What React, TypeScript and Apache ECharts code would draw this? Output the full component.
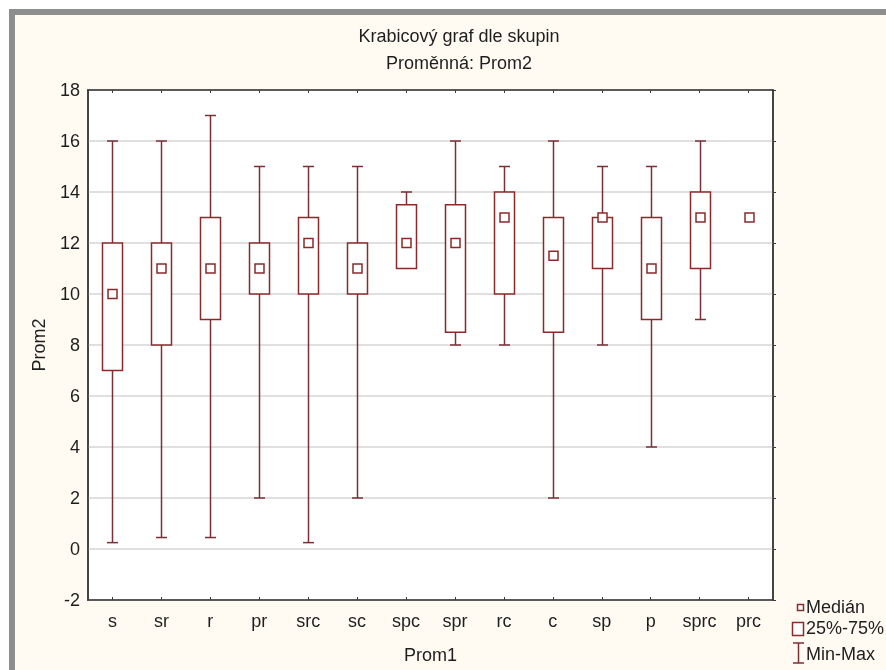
import React, { useEffect, useRef } from "react";
import * as echarts from "echarts";

const categories = ["s", "sr", "r", "pr", "src", "sc", "spc", "spr", "rc", "c", "sp", "p", "sprc", "prc"];
const minValues = [0.25, 0.45, 0.45, 2, 0.25, 2, 11, 8, 8, 2, 8, 4, 9, 13];
const q1Values = [7, 8, 9, 10, 10, 10, 11, 8.5, 10, 8.5, 11, 9, 11, 13];
const medianValues = [10, 11, 11, 11, 12, 11, 12, 12, 13, 11.5, 13, 11, 13, 13];
const q3Values = [12, 12, 13, 12, 13, 12, 13.5, 13.5, 14, 13, 13, 13, 14, 13];
const maxValues = [16, 16, 17, 15, 15, 15, 14, 16, 15, 16, 15, 15, 16, 13];

const yMin = -2;
const yMax = 18;
const yInterval = 2;

const titleText = "Krabicový graf dle skupin";
const subtitleText = "Proměnná: Prom2";
const xName = "Prom1";
const yName = "Prom2";
const legendLabels = ["Medián", "25%-75%", "Min-Max"];

const FONT = "Liberation Sans, Arial, sans-serif";
const BOX_COLOR = "#8b2a2a";
const WHISKER_COLOR = "#7b2f36";
const TEXT_COLOR = "#1e1e1e";
const FRAME = "#3a3a3a";

function txt(text: string, x: number, y: number, align: string, size = 18) {
  return {
    type: "text",
    x,
    y,
    style: {
      text,
      font: `${size}px ${FONT}`,
      fill: TEXT_COLOR,
      align,
      verticalAlign: "middle",
      textAlign: align,
      textVerticalAlign: "middle",
    },
  };
}

export default function App() {
  const ref = useRef<HTMLDivElement>(null);
  useEffect(() => {
    const chart = echarts.init(ref.current!, undefined, { renderer: "svg" });
    const data = categories.map((_, i) => [
      i,
      minValues[i],
      q1Values[i],
      medianValues[i],
      q3Values[i],
      maxValues[i],
    ]);
    const option: any = {
      animation: false,
      backgroundColor: "transparent",
      textStyle: { fontFamily: FONT },
      graphic: [
        { type: "rect", z: -10, shape: { x: 9, y: 9, width: 877, height: 661 }, style: { fill: "#8e8e8e" } },
        { type: "rect", z: -9, shape: { x: 15, y: 15, width: 871, height: 655 }, style: { fill: "#fffbf2" } },
        txt(titleText, 459, 36, "center"),
        txt(subtitleText, 459, 63, "center"),
        {
          type: "rect",
          shape: { x: 797.5, y: 604.5, width: 6, height: 6 },
          style: { fill: "#fff", stroke: BOX_COLOR, lineWidth: 1.5 },
        },
        txt(legendLabels[0], 806, 607, "left"),
        {
          type: "rect",
          shape: { x: 792.5, y: 622.5, width: 11, height: 13 },
          style: { fill: "#fff", stroke: BOX_COLOR, lineWidth: 1.5 },
        },
        txt(legendLabels[1], 806, 628, "left"),
        { type: "line", shape: { x1: 798.5, y1: 643, x2: 798.5, y2: 663 }, style: { stroke: WHISKER_COLOR, lineWidth: 1.5 } },
        { type: "line", shape: { x1: 793, y1: 643, x2: 804, y2: 643 }, style: { stroke: WHISKER_COLOR, lineWidth: 1.5 } },
        { type: "line", shape: { x1: 793, y1: 663, x2: 804, y2: 663 }, style: { stroke: WHISKER_COLOR, lineWidth: 1.5 } },
        txt(legendLabels[2], 806, 654, "left"),
      ],
      grid: {
        left: 88,
        right: 113,
        top: 90,
        bottom: 70,
        show: true,
        backgroundColor: "#ffffff",
        borderColor: FRAME,
        borderWidth: 1.5,
      },
      xAxis: [
        {
          type: "category",
          data: categories,
          position: "bottom",
          boundaryGap: true,
          axisLine: { show: true, onZero: false, lineStyle: { color: FRAME, width: 1.5 } },
          axisTick: { show: true, alignWithLabel: true, inside: true, length: 3, lineStyle: { color: FRAME } },
          axisLabel: { color: TEXT_COLOR, fontSize: 18, fontFamily: FONT, margin: 12 },
          splitLine: { show: false },
          name: xName,
          nameLocation: "middle",
          nameGap: 46,
          nameTextStyle: { color: TEXT_COLOR, fontSize: 18, fontFamily: FONT },
        },
        {
          type: "category",
          data: categories,
          position: "top",
          boundaryGap: true,
          axisLine: { show: true, onZero: false, lineStyle: { color: FRAME, width: 1.5 } },
          axisTick: { show: true, alignWithLabel: true, inside: true, length: 3, lineStyle: { color: FRAME } },
          axisLabel: { show: false },
          splitLine: { show: false },
        },
      ],
      yAxis: [
        {
          type: "value",
          min: yMin,
          max: yMax,
          interval: yInterval,
          position: "left",
          axisLine: { show: true, onZero: false, lineStyle: { color: FRAME, width: 1.5 } },
          axisTick: { show: false },
          axisLabel: { color: TEXT_COLOR, fontSize: 18, fontFamily: FONT, margin: 8 },
          splitLine: { show: true, lineStyle: { color: "#d6d6d6", width: 1.5 } },
          name: yName,
          nameLocation: "middle",
          nameGap: 40,
          nameRotate: 90,
          nameTextStyle: { color: TEXT_COLOR, fontSize: 18, fontFamily: FONT },
        },
        {
          type: "value",
          min: yMin,
          max: yMax,
          interval: yInterval,
          position: "right",
          axisLine: { show: true, onZero: false, lineStyle: { color: FRAME, width: 1.5 } },
          axisTick: { show: true, inside: false, length: 3, lineStyle: { color: FRAME } },
          axisLabel: { show: false },
          splitLine: { show: false },
        },
      ],
      series: [
        {
          type: "custom",
          xAxisIndex: 0,
          yAxisIndex: 0,
          encode: { x: 0, y: [1, 2, 3, 4, 5] },
          data,
          renderItem: (params: any, api: any) => {
            const x = api.value(0);
            const mn = api.value(1);
            const q1 = api.value(2);
            const md = api.value(3);
            const q3 = api.value(4);
            const mx = api.value(5);
            const pMin = api.coord([x, mn]);
            const pQ1 = api.coord([x, q1]);
            const pMd = api.coord([x, md]);
            const pQ3 = api.coord([x, q3]);
            const pMax = api.coord([x, mx]);
            const cx = Math.round(pMd[0]) + 0.5;
            const boxW = 20;
            const capW = 11;
            const medS = 9;
            const wStyle = { stroke: WHISKER_COLOR, lineWidth: 1.5 };
            const children: any[] = [];
            if (mx > q3) {
              children.push({ type: "line", shape: { x1: cx, y1: pQ3[1], x2: cx, y2: pMax[1] }, style: wStyle });
              children.push({ type: "line", shape: { x1: cx - capW / 2, y1: pMax[1], x2: cx + capW / 2, y2: pMax[1] }, style: wStyle });
            }
            if (mn < q1) {
              children.push({ type: "line", shape: { x1: cx, y1: pQ1[1], x2: cx, y2: pMin[1] }, style: wStyle });
              children.push({ type: "line", shape: { x1: cx - capW / 2, y1: pMin[1], x2: cx + capW / 2, y2: pMin[1] }, style: wStyle });
            }
            if (q3 > q1) {
              children.push({
                type: "rect",
                shape: { x: cx - boxW / 2, y: pQ3[1], width: boxW, height: pQ1[1] - pQ3[1] },
                style: { fill: "#fff", stroke: BOX_COLOR, lineWidth: 1.5 },
              });
            }
            children.push({
              type: "rect",
              shape: { x: cx - medS / 2, y: pMd[1] - medS / 2, width: medS, height: medS },
              style: { fill: "#fff", stroke: BOX_COLOR, lineWidth: 1.5 },
            });
            return { type: "group", children };
          },
        },
      ],
    };
    chart.setOption(option);
    return () => chart.dispose();
  }, []);
  return <div ref={ref} style={{ position: "fixed", left: 0, top: 0, width: 886, height: 670 }} />;
}
